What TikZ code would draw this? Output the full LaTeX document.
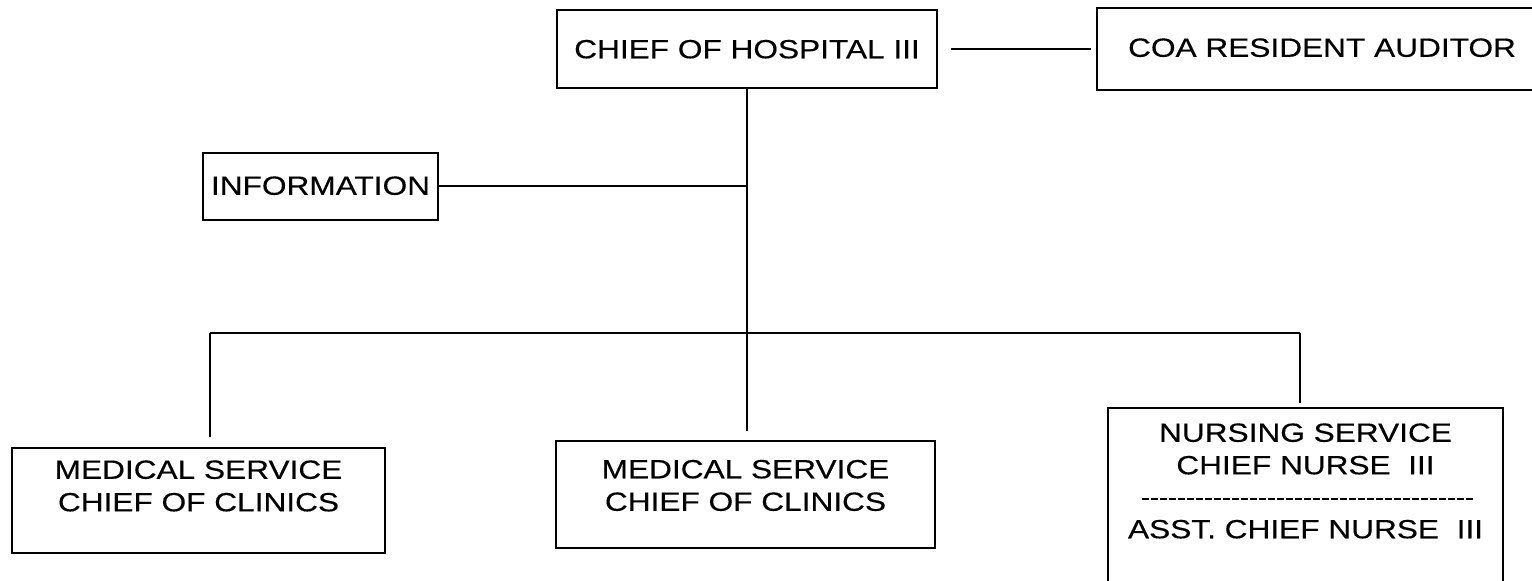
\documentclass[tikz,border=0pt]{standalone}
\usepackage{fontspec}
\setmainfont{Liberation Sans}[FakeStretch=1.2,FakeBold=0.3]

\tikzset{
  orgbox/.style={draw, line width=0.9pt, inner sep=0pt, text height=0.38cm, text depth=0pt},
  link/.style={line width=0.9pt},
  sepline/.style={line width=1.6pt, dash pattern=on 0.14cm off 0.04cm}
}

\begin{document}
\begin{tikzpicture}[x=0.02cm, y=-0.02cm, font=\fontsize{15}{18.5}\selectfont]
\useasboundingbox (0,0) rectangle (1532,581);
\clip (0,0) rectangle (1532,581);

% Draw the boxes on top
\node[orgbox, anchor=north, minimum width=7.6cm, minimum height=1.56cm] (chief) at (747,9) {CHIEF OF HOSPITAL III};
\node[orgbox, anchor=north, minimum width=9cm, minimum height=1.64cm, text depth=0.06cm] (coa) at (1322,7) {COA RESIDENT AUDITOR};
\node[orgbox, anchor=north, minimum width=4.7cm, minimum height=1.34cm, text depth=0.04cm] (info) at (320.5,152) {INFORMATION};

% Draw the boxes at the bottom
\node[orgbox, anchor=north, text width=7.46cm, align=center, text height=0.62cm, text depth=1.48cm] (medleft) at (198.5,447) {MEDICAL SERVICE\\CHIEF OF CLINICS};
\node[orgbox, anchor=north, text width=7.58cm, align=center, text height=0.75cm, text depth=1.39cm] (medmid) at (745.5,440) {MEDICAL SERVICE\\CHIEF OF CLINICS};
\node[orgbox, anchor=north, text width=7.9cm, align=center, text height=0.68cm, text depth=3.2cm] (nurse) at (1305.5,407) {NURSING SERVICE\\CHIEF NURSE~~III\\[0.63cm]ASST. CHIEF NURSE~~III};
\draw[sepline] ([xshift=0.7cm,yshift=-1.84cm]nurse.north west) -- ([xshift=-0.62cm,yshift=-1.84cm]nurse.north east);

% Draw the lines between the boxes
\coordinate (barL) at (210,333);
\coordinate (barR) at (1300,333);
\draw[link, shorten <=0.26cm, shorten >=0.1cm] (chief.east) -- (chief.east -| coa.west);
\draw[link] (info.east) -- (info.east -| chief.south);
\draw[link, shorten >=0.18cm] (chief.south) -- (chief.south |- medmid.north);
\draw[link] (barL) -- (barR);
\draw[link, shorten >=0.2cm] (barL) -- (barL |- medleft.north);
\draw[link, shorten >=0.08cm] (barR) -- (barR |- nurse.north);

\end{tikzpicture}
\end{document}
